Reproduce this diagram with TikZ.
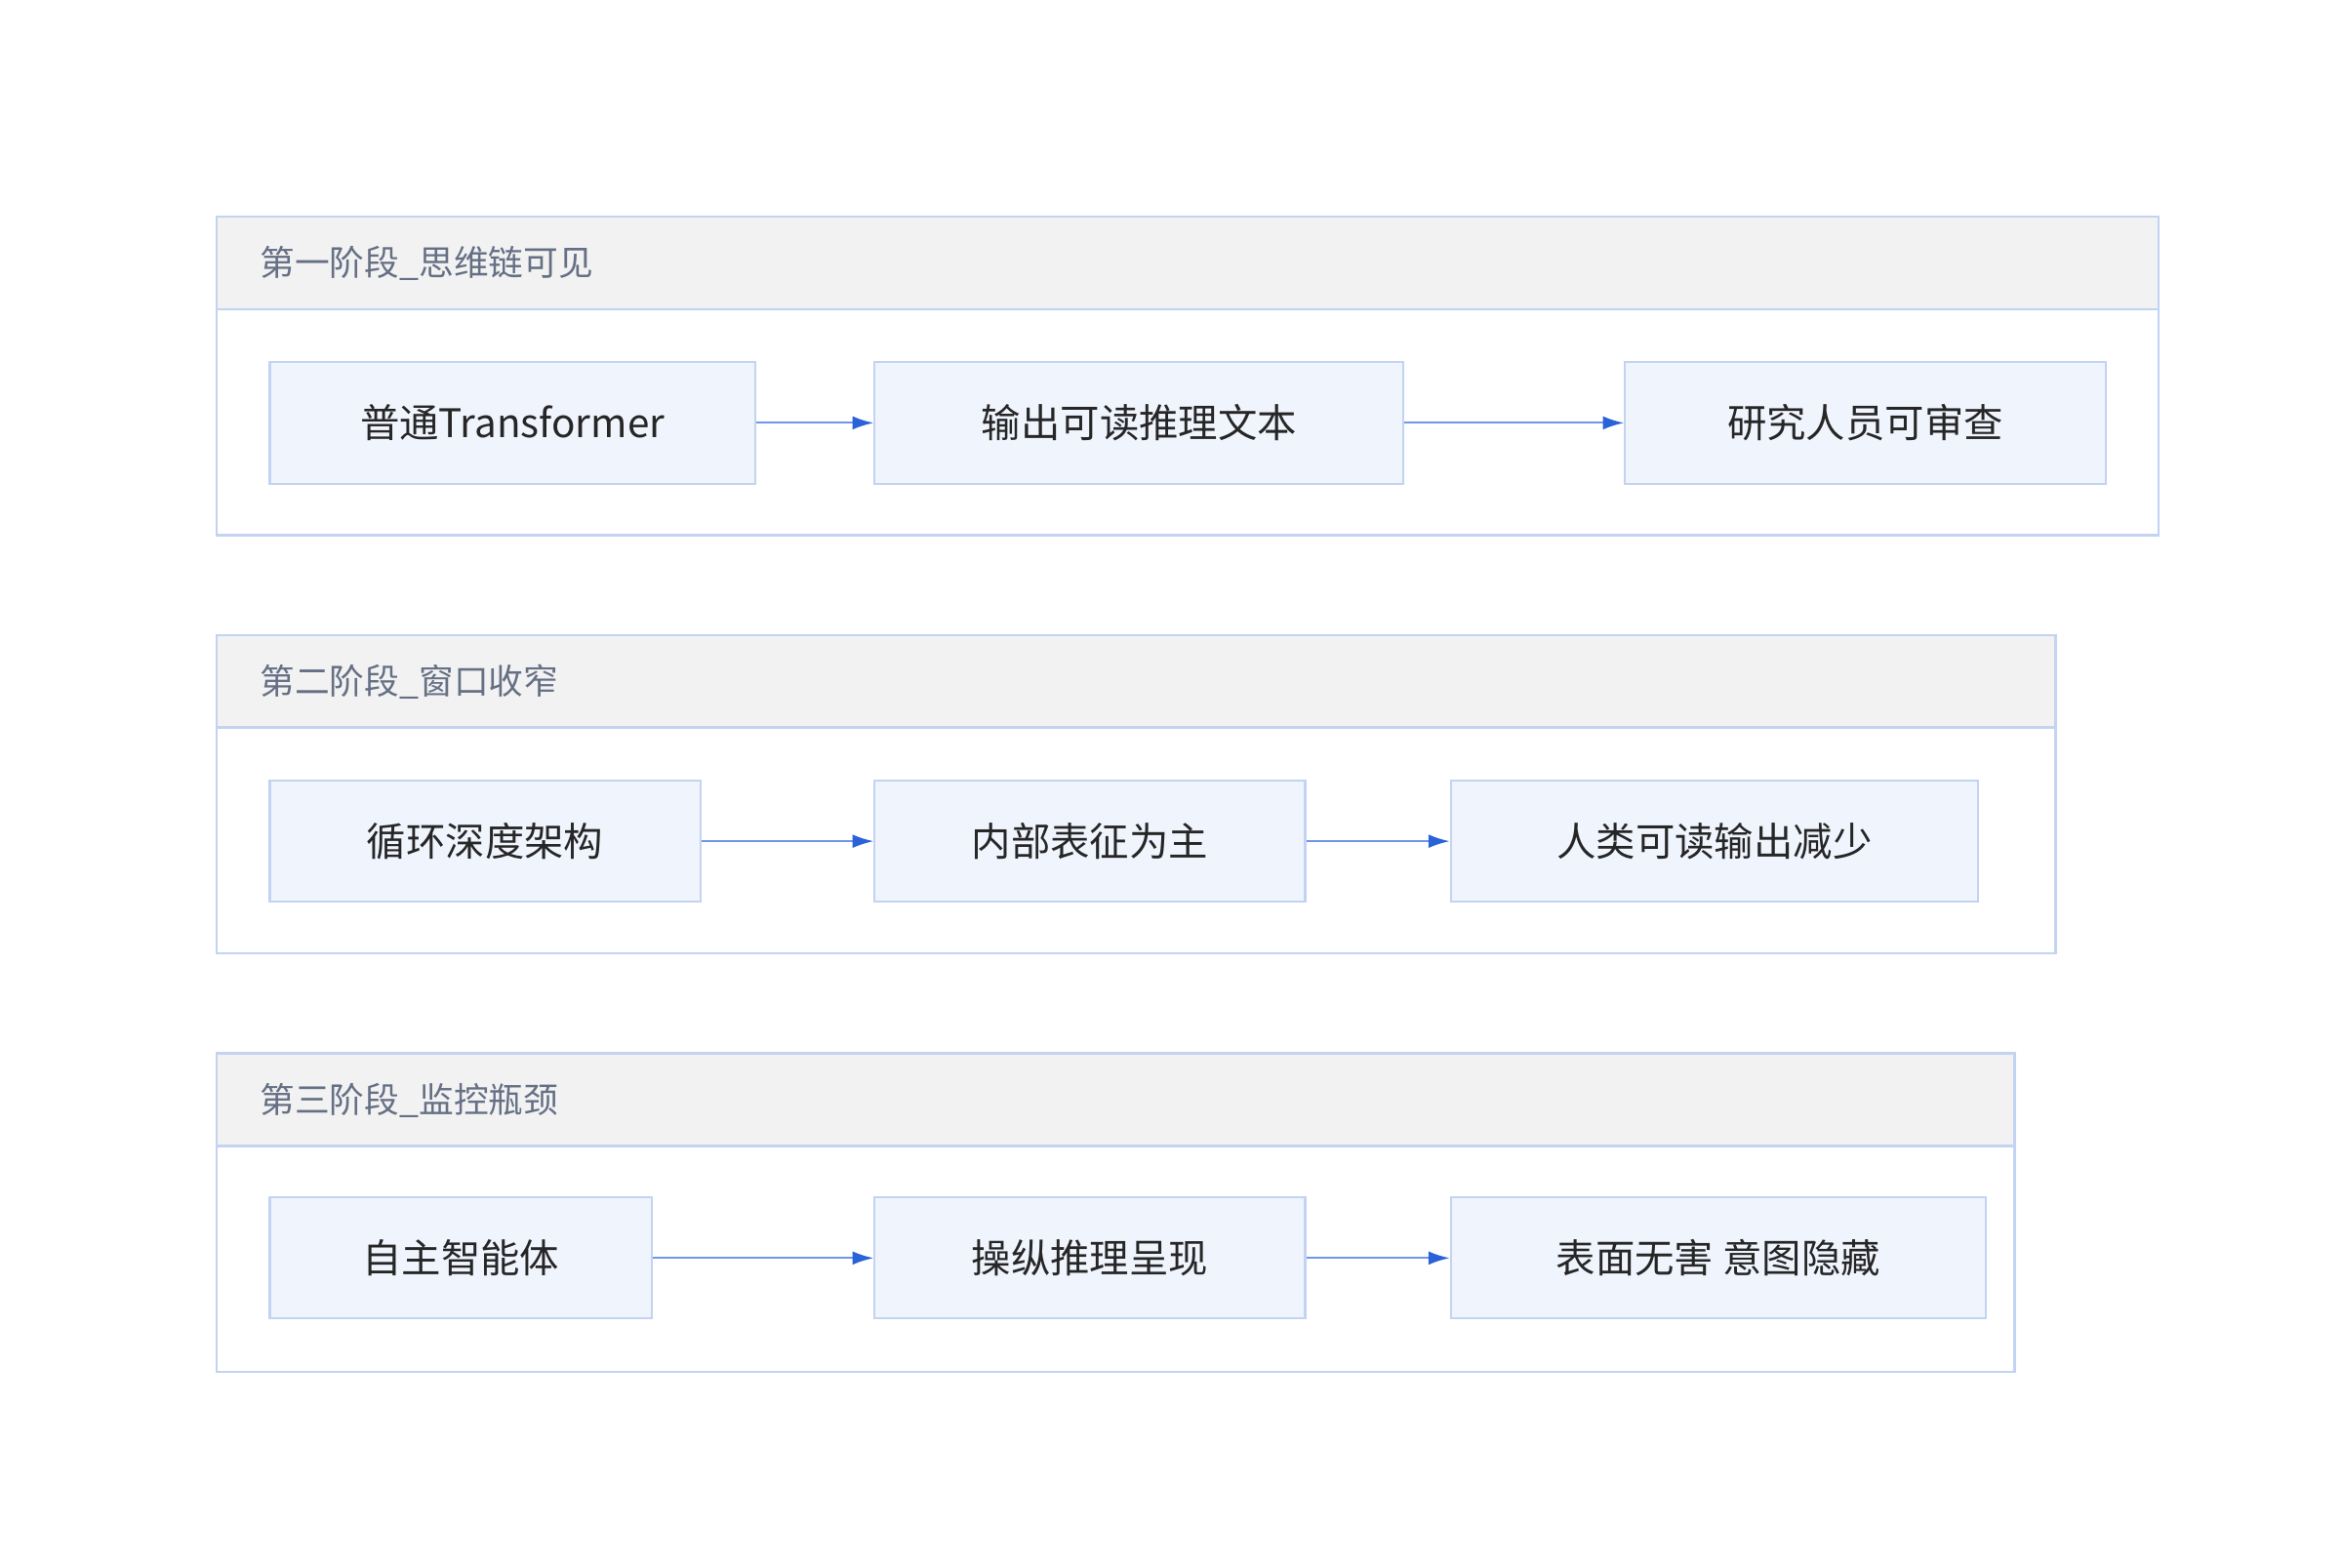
\documentclass[tikz,border=0pt]{standalone}
\usepackage{fontspec}
\setmainfont{Noto Sans CJK SC}
\usetikzlibrary{arrows.meta, positioning}
\definecolor{boxfill}{HTML}{F0F4FD}
\definecolor{boxline}{HTML}{C3D3F2}
\definecolor{headfill}{HTML}{F2F2F2}
\definecolor{headtext}{HTML}{667085}
\definecolor{arrline}{HTML}{6F96E8}
\definecolor{arrhead}{HTML}{2A62D8}
\tikzset{
  box/.style={draw=boxline, fill=boxfill, line width=1.3pt, minimum height=80pt, inner sep=0pt, font=\fontsize{26}{30}\selectfont, text=black!85},
  group/.style={draw=boxline, line width=1.5pt},
  head/.style={draw=boxline, fill=headfill, line width=1.5pt},
  headlabel/.style={anchor=west, text=headtext, font=\fontsize{23}{27}\selectfont},
  flow/.style={draw=arrline, line width=1.3pt, -{Latex[length=14pt, width=9pt, color=arrhead]}}
}
\begin{document}
\begin{tikzpicture}[x=1pt, y=-1pt]
  \useasboundingbox (0,0) rectangle (1545,1034);
  % stage one
  \draw[group] (143,143) rectangle (1424,353);
  \draw[head] (143,143) rectangle (1424,204);
  \node[headlabel] (h1) at (168,174) {第一阶段\_思维链可见};
  \node[box, minimum width=320pt] (a1) at (338,279) {普通Transformer};
  \node[box, minimum width=349pt] (a2) at (751.5,279) {输出可读推理文本};
  \node[box, minimum width=317pt] (a3) at (1230.5,279) {研究人员可审查};
  % stage two
  \draw[group] (143,419) rectangle (1356,629);
  \draw[head] (143,419) rectangle (1356,480);
  \node[headlabel] (h2) at (168,450) {第二阶段\_窗口收窄};
  \node[box, minimum width=284pt] (b1) at (320,555) {循环深度架构};
  \node[box, minimum width=284pt] (b2) at (719,555) {内部表征为主};
  \node[box, minimum width=348pt] (b3) at (1131,555) {人类可读输出减少};
  % stage three
  \draw[group] (143,695) rectangle (1329,905);
  \draw[head] (143,695) rectangle (1329,756);
  \node[headlabel] (h3) at (168,726) {第三阶段\_监控瓶颈};
  \node[box, minimum width=252pt] (c1) at (304,830) {自主智能体};
  \node[box, minimum width=284pt] (c2) at (719,830) {操纵推理呈现};
  \node[box, minimum width=353pt] (c3) at (1133.5,830) {表面无害 意图隐藏};

  \draw[flow] (a1) -- (a2);
  \draw[flow] (a2) -- (a3);
  \draw[flow] (b1) -- (b2);
  \draw[flow] (b2) -- (b3);
  \draw[flow] (c1) -- (c2);
  \draw[flow] (c2) -- (c3);
\end{tikzpicture}
\end{document}
